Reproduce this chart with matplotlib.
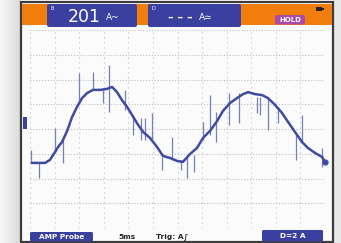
import numpy as np
import matplotlib.pyplot as plt
from matplotlib.patches import Rectangle, FancyBboxPatch

# waveform, in grid divisions (12 x 8, centre line = 0)
trace_x = [0.08, 0.33, 0.61, 0.81, 1.02, 1.14, 1.30, 1.51, 1.71, 1.91, 2.12, 2.32, 2.56,
           2.85, 3.13, 3.34, 3.54, 3.74, 3.95, 4.15, 4.35, 4.60, 4.88, 5.17, 5.41, 5.70,
           5.98, 6.22, 6.51, 6.79, 7.04, 7.32, 7.61, 7.85, 8.14, 8.42, 8.67, 8.87, 9.15,
           9.44, 9.68, 9.97, 10.25, 10.50, 10.78, 11.07, 11.31, 11.60, 11.88, 12.0]
trace_y = [-1.37, -1.37, -1.37, -1.25, -0.93, -0.73, -0.53, -0.08, 0.48, 0.89, 1.25, 1.45, 1.58,
           1.58, 1.62, 1.70, 1.49, 1.17, 0.89, 0.57, 0.24, -0.12, -0.36, -0.73, -1.09, -1.17,
           -1.29, -1.33, -1.01, -0.77, -0.36, -0.08, 0.32, 0.73, 1.05, 1.25, 1.41, 1.49, 1.41,
           1.37, 1.25, 0.97, 0.65, 0.28, -0.12, -0.53, -0.77, -0.97, -1.13, -1.33]

# noise spikes: position, low end, high end
spike_x = [0.04, 0.37, 1.02, 1.34, 1.99, 2.56, 2.97, 3.21, 3.86, 4.19, 4.52, 4.68, 4.96,
           5.37, 5.78, 6.14, 6.39, 6.67, 7.04, 7.32, 7.57, 8.10, 8.50, 9.24, 9.36, 9.68,
           10.09, 10.82, 11.07, 11.88]
spike_lo = [-1.37, -1.98, -0.93, -1.37, 1.17, 1.58, 1.05, 0.69, 0.77, -0.24, -0.44, -0.44, -0.53,
            -1.66, -1.25, -1.66, -1.98, -1.74, -0.44, -0.24, -0.53, 0.16, 0.24, 0.65, 0.57, -0.04,
            0.24, -1.25, -0.57, -1.54]
spike_hi = [-0.85, -1.37, 0.04, -0.44, 2.26, 2.30, 1.58, 2.59, 1.58, 0.57, 0.44, 0.44, 0.65,
            -1.13, -0.32, -1.25, -1.13, -1.05, 0.28, 1.37, 0.69, 1.45, 1.45, 1.29, 1.29, 1.29,
            0.89, -0.24, 0.57, -0.77]

reading_a = "201"
reading_b = "– – –"
bottom_labels = ["AMP Probe", "5ms", "Trig: A∫", "D=2 A"]

orange = "#f07d0c"
blue = "#3a40a0"
wave = "#3f4ba0"

fig = plt.figure(figsize=(3.41, 2.43), dpi=100)
fig.patch.set_facecolor("white")

# screen / bezel drawn in pixel coordinates
bg = fig.add_axes([0, 0, 1, 1])
grad = np.linspace(0.97, 0.86, 50).reshape(1, -1)
bg.imshow(grad, extent=[0, 20, 243, 0], cmap="gray", vmin=0, vmax=1, aspect="auto")
bg.add_patch(Rectangle((333, 0), 8, 243, color="#e8e8e8", lw=0))
bg.add_patch(Rectangle((20.5, 2.5), 312, 239, facecolor="#fbfbfb", edgecolor="#3c3c3c", lw=1.6))
bg.add_patch(Rectangle((22, 4), 309.5, 21, color=orange, lw=0))
bg.add_patch(FancyBboxPatch((47, 4), 90, 23, boxstyle="round,pad=0,rounding_size=2", color=blue, lw=0))
bg.add_patch(FancyBboxPatch((148, 4), 93, 23, boxstyle="round,pad=0,rounding_size=2", color=blue, lw=0))
bg.add_patch(FancyBboxPatch((275, 15), 30, 9.5, boxstyle="round,pad=0,rounding_size=2.5", color="#a84aa8", lw=0))
bg.add_patch(Rectangle((316, 7), 6, 4, color="#222222", lw=0))
bg.add_patch(Rectangle((322, 8), 1.5, 2, color="#222222", lw=0))
bg.add_patch(Rectangle((23, 117), 4, 12, color=blue, lw=0))

bg.text(52, 8.5, "B", color="white", fontsize=3.5, ha="center", va="center")
bg.text(84, 16.5, reading_a, color="white", fontsize=12.5, ha="center", va="center")
bg.text(113, 18, "A~", color="white", fontsize=6.5, ha="center", va="center")
bg.text(153, 8.5, "D", color="white", fontsize=3.5, ha="center", va="center")
bg.text(180, 18, reading_b, color="white", fontsize=8, ha="center", va="center", fontweight="bold")
bg.text(206, 17, "A≃", color="white", fontsize=6.5, ha="center", va="center")
bg.text(290, 19.8, "HOLD", color="white", fontsize=5, ha="center", va="center", fontweight="bold")

bg.add_patch(FancyBboxPatch((30, 232), 63, 9.5, boxstyle="round,pad=0,rounding_size=1.5", color=blue, lw=0))
bg.add_patch(FancyBboxPatch((262, 230), 61, 11.5, boxstyle="round,pad=0,rounding_size=1.5", color=blue, lw=0))
bg.text(61.5, 237, bottom_labels[0], color="white", fontsize=5.3, ha="center", va="center", fontweight="bold")
bg.text(127, 237, bottom_labels[1], color="#222222", fontsize=5.3, ha="center", va="center", fontweight="bold")
bg.text(172, 237, bottom_labels[2], color="#222222", fontsize=5.3, ha="center", va="center", fontweight="bold")
bg.text(292.5, 236, bottom_labels[3], color="white", fontsize=5.3, ha="center", va="center", fontweight="bold")

bg.set_xlim(0, 341)
bg.set_ylim(243, 0)
bg.axis("off")

# measurement grid
ax = fig.add_axes([30 / 341, 15 / 243, 295 / 341, 198 / 243])
ax.patch.set_visible(False)
for gx in range(13):
    ax.axvline(gx, color="#bdbdbd", lw=0.8, ls=(0, (1, 3.5)), zorder=1)
for gy in range(-4, 5):
    ax.axhline(gy, color="#bdbdbd", lw=0.8, ls=(0, (1, 1.6)), zorder=1)

ax.vlines(spike_x, spike_lo, spike_hi, color="#7480b8", lw=0.9, zorder=2)
ax.plot(trace_x, trace_y, color=wave, lw=1.8, zorder=3)
ax.plot(trace_x[-1], trace_y[-1], "o", color=wave, ms=3.5, zorder=3, clip_on=False)

ax.set_xlim(0, 12)
ax.set_ylim(-4, 4)
ax.axis("off")

fig.savefig("out.png", dpi=100)
